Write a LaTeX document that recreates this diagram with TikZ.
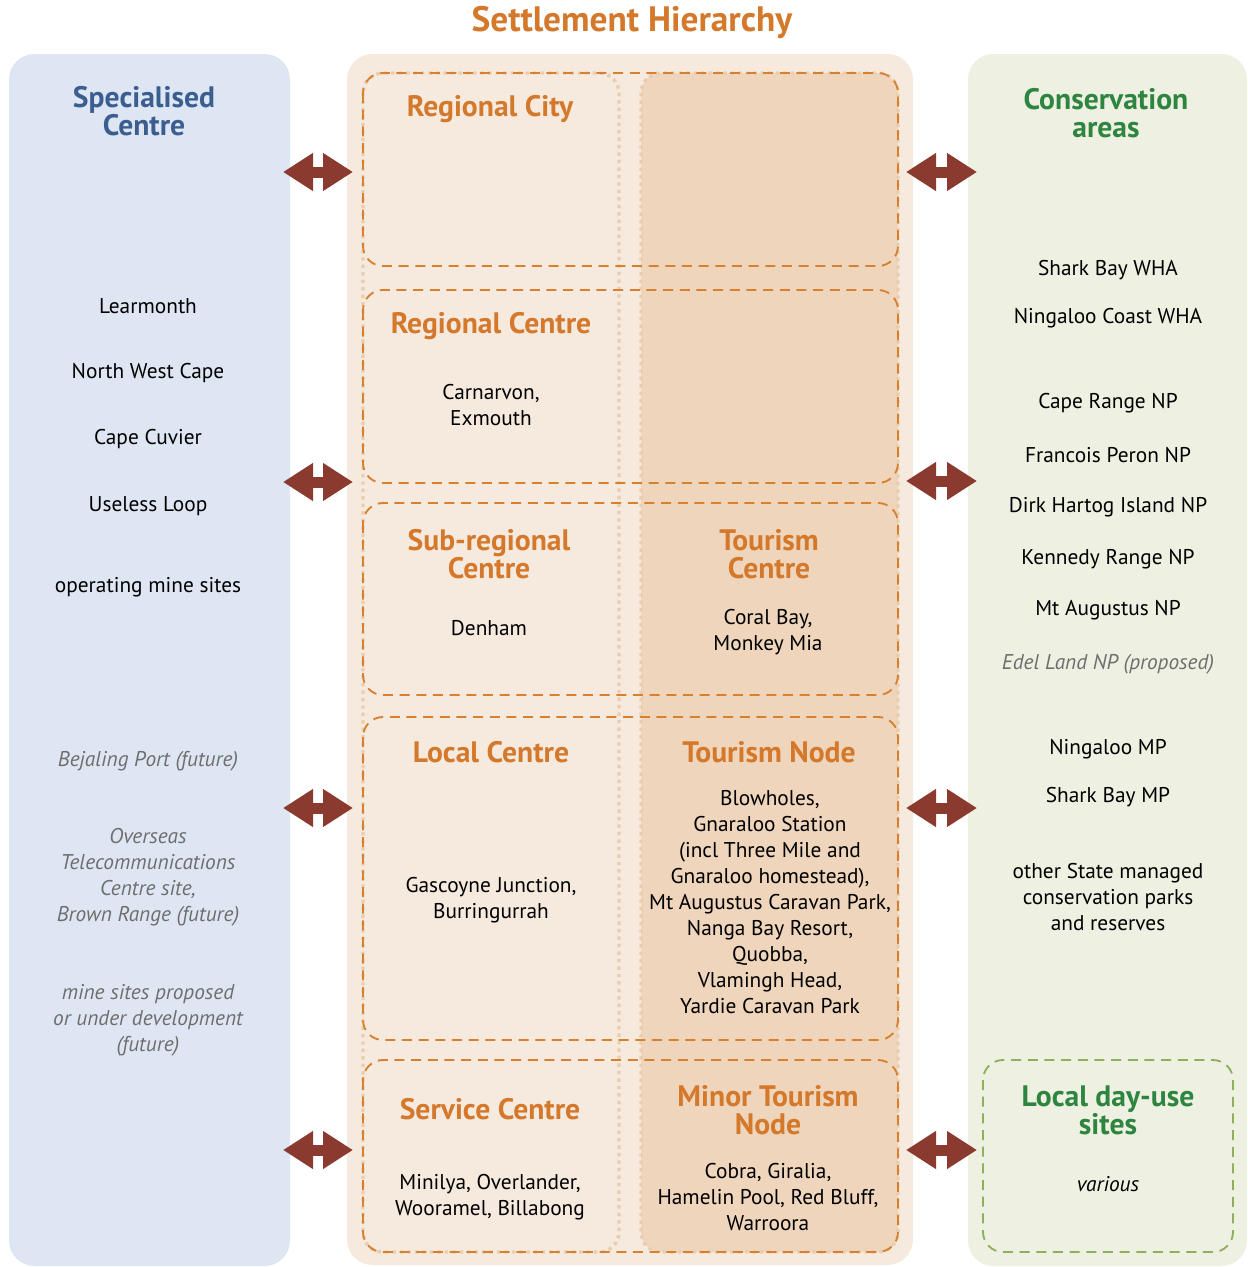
\documentclass[tikz,border=0pt]{standalone}
\usepackage{fontspec}
\setmainfont{PT Sans}
\usetikzlibrary{arrows.meta}
\usetikzlibrary{calc}
\definecolor{specBlue}{HTML}{DFE6F3}
\definecolor{hierBeige}{HTML}{F6EADF}
\definecolor{hierTan}{HTML}{EED5BB}
\definecolor{dotTan}{HTML}{EACDAE}
\definecolor{consGreen}{HTML}{EEF0E2}
\definecolor{headOrange}{HTML}{D4792B}
\definecolor{dashOrange}{HTML}{D7802F}
\definecolor{headBlue}{HTML}{3B5E91}
\definecolor{headGreen}{HTML}{2E8540}
\definecolor{dashGreen}{HTML}{8DB05A}
\definecolor{linkRed}{HTML}{8B3A2F}
\definecolor{noteGray}{HTML}{6E6E6E}
\tikzset{panel/.style={draw=none, rounded corners=19pt}}
\tikzset{rowbox/.style={draw=dashOrange, line width=1.4pt, dash pattern=on 7.5pt off 5pt, rounded corners=15pt}}
\tikzset{columnbox/.style={draw=dotTan, line width=2.6pt, dash pattern=on 2.6pt off 3pt, rounded corners=15pt}}
\tikzset{body/.style={font=\fontsize{16}{19.5}\selectfont, align=center, inner sep=0pt}}
\tikzset{note/.style={body, font=\fontsize{16}{19.5}\selectfont\itshape, text=noteGray}}
\tikzset{head/.style={font=\fontsize{22.2}{21}\selectfont\bfseries, align=center, inner sep=0pt}}
\tikzset{linkarrow/.style={draw=linkRed, line width=8.25pt, {Triangle[length=22.5pt,width=27pt,fill=linkRed]}-{Triangle[length=22.5pt,width=27pt,fill=linkRed]}}}

\begin{document}
\begin{tikzpicture}[x=0.75pt,y=-0.75pt]
\useasboundingbox (0,0) rectangle (1247,1267);
% panels
\fill[specBlue,panel] (9,54) rectangle (290,1266);
\fill[hierBeige,panel] (347,54) rectangle (913,1265);
\fill[consGreen,panel] (968,54) rectangle (1247,1266);
% columns of the hierarchy
\draw[columnbox] (363,73) rectangle (619,1252);
\filldraw[columnbox,fill=hierTan] (641,73) rectangle (898,1252);
% rows of the hierarchy
\draw[rowbox] (363,73) rectangle (898,266);
\draw[rowbox] (363,290) rectangle (898,483);
\draw[rowbox] (363,503) rectangle (898,695);
\draw[rowbox] (363,717) rectangle (898,1040);
\draw[rowbox] (363,1060) rectangle (898,1252);
\draw[rowbox, draw=dashGreen] (983,1060) rectangle (1233,1252);

% links
\foreach \y/\n in {172/a,482/b,808/c,1150/d}{
  \coordinate (specR\n) at (283,\y);
  \coordinate (hierL\n) at (353,\y);
  \draw[linkarrow] (specR\n) -- (hierL\n);
}
\foreach \y/\n in {172/a,481/b,808/c,1150/d}{
  \coordinate (hierR\n) at (906,\y);
  \coordinate (consL\n) at (977,\y);
  \draw[linkarrow] (hierR\n) -- (consL\n);
}

% title
\node[font=\fontsize{26.5}{28}\selectfont\bfseries, text=headOrange, inner sep=0pt] (title) at (632,23) {Settlement Hierarchy};

% specialised centre
\node[head, text=headBlue] (spec) at (144,111) {Specialised\\Centre};
\node[body] (learm) at (148,306) {Learmonth};
\node[body] (nwcape) at (148,373) {North West Cape};
\node[body] (cuvier) at (148,439) {Cape Cuvier};
\node[body] (useless) at (148,506) {Useless Loop};
\node[body] (opmine) at (148,587) {operating mine sites};
\node[note] (bejaling) at (148,761) {Bejaling Port (future)};
\node[note] (overseas) at (148,877) {Overseas\\Telecommunications\\Centre site,\\Brown Range (future)};
\node[note] (propmine) at (148,1020) {mine sites proposed\\or under development\\(future)};

% hierarchy, left column
\node[head, text=headOrange] (rcity) at (490,109) {Regional City};
\node[head, text=headOrange] (rcentre) at (491,326) {Regional Centre};
\node[body] (carn) at (491,405) {Carnarvon,\\Exmouth};
\node[head, text=headOrange] (subreg) at (489,554) {Sub-regional\\Centre};
\node[body] (denham) at (489,628) {Denham};
\node[head, text=headOrange] (lcentre) at (491,752) {Local Centre};
\node[body] (gascoyne) at (491,900) {Gascoyne Junction,\\Burringurrah};
\node[head, text=headOrange] (scentre) at (490,1109) {Service Centre};
\node[body] (minilya) at (490,1197) {Minilya, Overlander,\\Wooramel, Billabong};

% hierarchy, right column
\node[head, text=headOrange] (tcentre) at (769,554) {Tourism\\Centre};
\node[body] (coral) at (768,632) {Coral Bay,\\Monkey Mia};
\node[head, text=headOrange] (tnode) at (769,752) {Tourism Node};
\node[body] (blowholes) at (770,902) {Blowholes,\\Gnaraloo Station\\(incl Three Mile and\\Gnaraloo homestead),\\Mt Augustus Caravan Park,\\Nanga Bay Resort,\\Quobba,\\Vlamingh Head,\\Yardie Caravan Park};
\node[head, text=headOrange] (mtnode) at (768,1110) {Minor Tourism\\Node};
\node[body] (cobra) at (768,1197) {Cobra, Giralia,\\Hamelin Pool, Red Bluff,\\Warroora};

% conservation areas
\node[head, text=headGreen] (cons) at (1106,113) {Conservation\\areas};
\node[body] (sbwha) at (1108,270) {Shark Bay WHA};
\node[body] (ncwha) at (1108,318) {Ningaloo Coast WHA};
\node[body] (crnp) at (1108,403) {Cape Range NP};
\node[body] (fpnp) at (1108,455) {Francois Peron NP};
\node[body] (dhnp) at (1108,507) {Dirk Hartog Island NP};
\node[body] (krnp) at (1108,559) {Kennedy Range NP};
\node[body] (manp) at (1108,610) {Mt Augustus NP};
\node[note] (elnp) at (1108,664) {Edel Land NP (proposed)};
\node[body] (nmp) at (1108,749) {Ningaloo MP};
\node[body] (sbmp) at (1108,797) {Shark Bay MP};
\node[body] (otherst) at (1108,897) {other State managed\\conservation parks\\and reserves};
\node[head, text=headGreen] (dayuse) at (1108,1110) {Local day-use\\sites};
\node[body, font=\fontsize{16}{19.5}\selectfont\itshape] (various) at (1108,1184) {various};
\end{tikzpicture}
\end{document}
